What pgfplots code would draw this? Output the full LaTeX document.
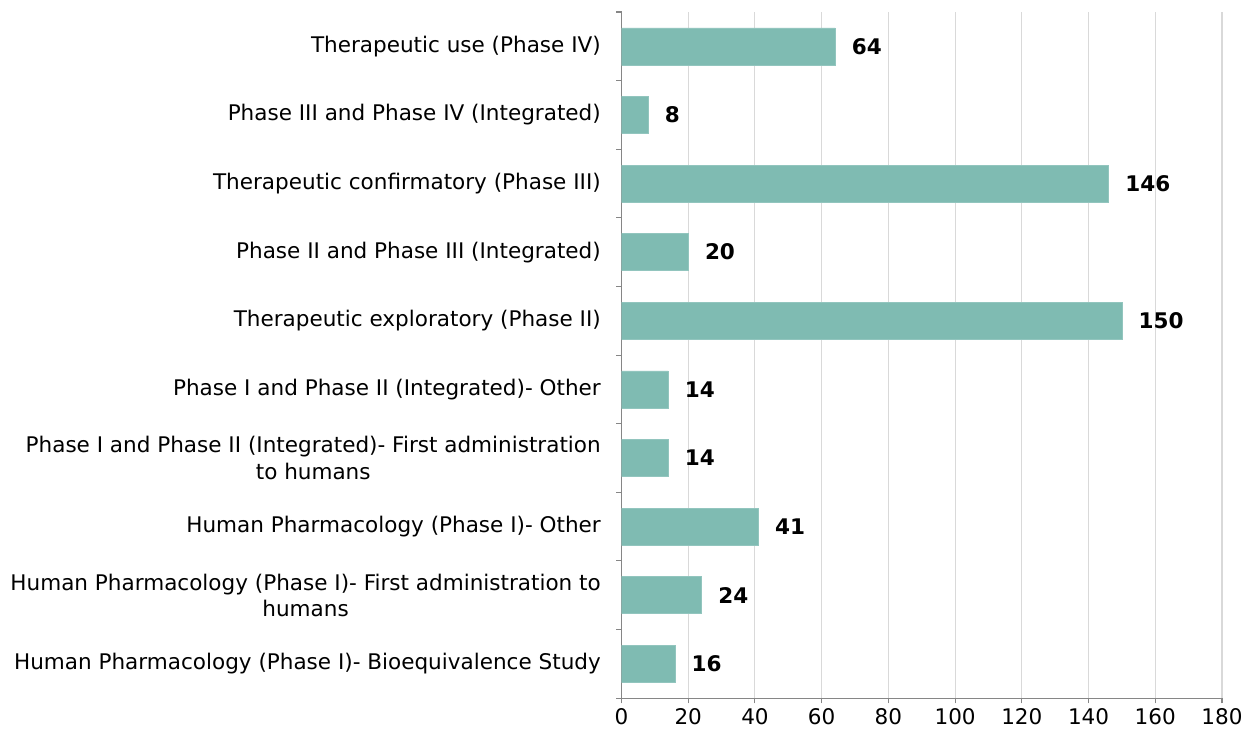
\documentclass[border=0pt]{standalone}
\usepackage{pgfplots}
\pgfplotsset{compat=1.18}
\usepackage{fontspec}
\setmainfont{DejaVu Sans}
\definecolor{barc}{HTML}{7FBBB2}
\definecolor{gridc}{HTML}{D9D9D9}
\definecolor{axc}{HTML}{868686}
\begin{document}
\begin{tikzpicture}
\begin{axis}[
  name=ax,
  scale only axis,
  width=449pt, height=513pt,
  xbar, bar width=0.54,
  xmin=0, xmax=180,
  ymin=-0.5, ymax=9.5,
  xtick={0,20,...,180},
  xmajorgrids, grid style={gridc, line width=0.8pt},
  axis x line*=bottom, axis y line*=left,
  axis line style={axc, line width=0.8pt},
  x axis line style={-}, y axis line style={-},
  ytick={0,...,9},
  yticklabels={Human Pharmacology (Phase I)- Bioequivalence Study,
    {Human Pharmacology (Phase I)- First administration to\\humans},
    Human Pharmacology (Phase I)- Other,
    {Phase I and Phase II (Integrated)- First administration\\to humans},
    Phase I and Phase II (Integrated)- Other,
    Therapeutic exploratory (Phase II),
    Phase II and Phase III (Integrated),
    Therapeutic confirmatory (Phase III),
    Phase III and Phase IV (Integrated),
    Therapeutic use (Phase IV)},
  yticklabel style={align=center, font=\fontsize{16.1}{19.5}\selectfont, xshift=-8pt},
  xticklabel style={font=\fontsize{16.1}{19}\selectfont},
  /pgf/number format/assume math mode=true,
  y tick style={draw=none},
  x tick style={axc, line width=0.8pt},
  tick align=outside, major tick length=4pt,
  extra y ticks={-0.5,0.5,...,9.5},
  extra y tick labels={},
  extra y tick style={y tick style={draw=axc, line width=0.8pt}, major tick length=4pt, tick align=outside, ymajorgrids=false},
  nodes near coords,
  nodes near coords style={font=\fontsize{16.1}{19}\selectfont\bfseries, anchor=west, xshift=9pt, black},
  every node near coord/.append style={/pgf/number format/assume math mode=true},
]
\addplot[fill=barc, draw=barc!85!white] coordinates {
(16,0) (24,1) (41,2) (14,3) (14,4) (150,5) (20,6) (146,7) (8,8) (64,9)};
\end{axis}
\path ([yshift=9pt]ax.north) ++(0,0);
\path ([xshift=-4.5pt]current bounding box.west) ++(0,0);
\end{tikzpicture}
\end{document}
